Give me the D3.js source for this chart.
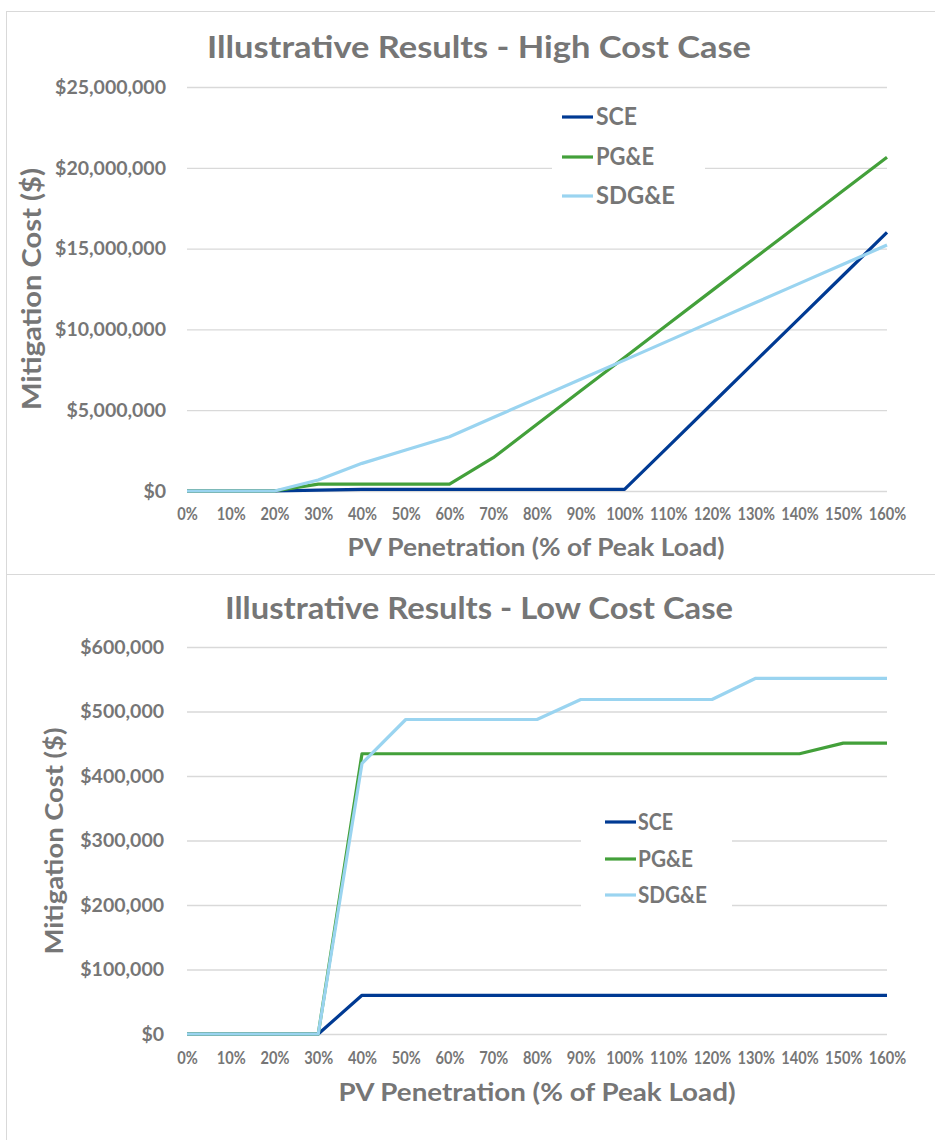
<!DOCTYPE html>
<html>
<head>
<meta charset="utf-8">
<script src="https://cdn.jsdelivr.net/npm/d3@7"></script>
<style>
  html, body { margin: 0; padding: 0; background: #fff; }
  svg { display: block; }
  text { font-family: Lato, "Open Sans", "DejaVu Sans", sans-serif; font-weight: bold; fill: #767676; }
</style>
</head>
<body>
<svg id="chart" width="935" height="1140"></svg>
<script>
// ---------- DATA ----------
const categories = ["0%","10%","20%","30%","40%","50%","60%","70%","80%","90%","100%","110%","120%","130%","140%","150%","160%"];
const seriesNames = ["SCE","PG&E","SDG&E"];

// High cost case (dollars)
const highSCE  = [0,0,0,50000,100000,100000,100000,100000,100000,100000,100000,2750000,5400000,8050000,10700000,13350000,16000000];
const highPGE  = [0,0,0,430000,430000,430000,430000,2060000,4130000,6200000,8260000,10330000,12400000,14460000,16520000,18590000,20650000];
const highSDGE = [0,0,0,680000,1710000,2540000,3360000,4550000,5730000,6920000,8100000,9290000,10480000,11660000,12850000,14030000,15220000];
const highTicks = [0,5000000,10000000,15000000,20000000,25000000];

// Low cost case (dollars)
const lowSCE  = [0,0,0,0,60000,60000,60000,60000,60000,60000,60000,60000,60000,60000,60000,60000,60000];
const lowPGE  = [0,0,0,0,434500,434500,434500,434500,434500,434500,434500,434500,434500,434500,434500,451000,451000];
const lowSDGE = [0,0,0,0,419500,487600,487600,487600,487600,518600,518600,518600,518600,551500,551500,551500,551500];
const lowTicks = [0,100000,200000,300000,400000,500000,600000];

const colors = ["#003A93","#43A03A","#9AD4F0"];
const gridColor = "#D9D9D9";
const textColor = "#767676";

const svg = d3.select("#chart");
const fmt = d3.format("$,");

// chart borders
svg.append("rect").attr("x",6.5).attr("y",11.5).attr("width",940).attr("height",563)
  .attr("fill","none").attr("stroke",gridColor).attr("stroke-width",1);
svg.append("rect").attr("x",6.5).attr("y",574.5).attr("width",940).attr("height",600)
  .attr("fill","none").attr("stroke",gridColor).attr("stroke-width",1);

function fitText(sel, width) {
  sel.attr("textLength", width).attr("lengthAdjust", "spacingAndGlyphs");
}

function drawChart(cfg) {
  const g = svg.append("g");
  const x = d3.scalePoint().domain(d3.range(categories.length)).range([cfg.x0, cfg.x1]);
  const y = d3.scaleLinear().domain([0, cfg.max]).range([cfg.yBottom, cfg.yTop]);

  // gridlines + y labels via axis
  const yAxis = d3.axisLeft(y).tickValues(cfg.ticks).tickFormat(fmt)
    .tickSize(-(cfg.x1 - cfg.x0)).tickPadding(cfg.yPad);
  const ya = g.append("g").attr("transform", `translate(${cfg.x0},0)`).call(yAxis);
  ya.select(".domain").remove();
  ya.selectAll(".tick line").attr("stroke", gridColor).attr("stroke-width", 1.3);
  ya.selectAll(".tick text").attr("fill", textColor).style("font-size", cfg.yFont + "px")
    .style("font-family", "Lato, sans-serif").style("font-weight", "bold");

  // x labels via axis
  const xAxis = d3.axisBottom(x).tickFormat(i => categories[i]).tickSize(0).tickPadding(0);
  const xa = g.append("g").attr("transform", `translate(0,${cfg.xLabelY})`).call(xAxis);
  xa.select(".domain").remove();
  xa.selectAll(".tick text").attr("fill", textColor).attr("dy", "0.35em").attr("y", 0)
    .style("font-size", "16.5px").style("font-family", "Lato, sans-serif").style("font-weight", "bold")
    .each(function(d) {
      const t = categories[d];
      const w = (t.length - 1) * 0.507 * 16.6 + 0.73 * 16.6;
      d3.select(this).attr("textLength", w).attr("lengthAdjust", "spacingAndGlyphs");
    });

  // legend background
  g.append("rect").attr("x", cfg.leg.bx0).attr("y", cfg.leg.by0)
    .attr("width", cfg.leg.bx1 - cfg.leg.bx0).attr("height", cfg.leg.by1 - cfg.leg.by0).attr("fill", "#fff");

  // lines
  const line = d3.line().x((d, i) => x(i)).y(d => y(d));
  cfg.series.forEach((s, k) => {
    g.append("path").datum(s).attr("d", line).attr("fill", "none")
      .attr("stroke", colors[k]).attr("stroke-width", 3.2).attr("stroke-linejoin", "round");
  });

  // legend
  seriesNames.forEach((n, k) => {
    const ly = cfg.leg.ys[k];
    g.append("line").attr("x1", cfg.leg.lx0).attr("x2", cfg.leg.lx1).attr("y1", ly).attr("y2", ly)
      .attr("stroke", colors[k]).attr("stroke-width", 3.2);
    g.append("text").attr("x", cfg.leg.tx).attr("y", ly).attr("dy", "0.35em")
      .style("font-size", cfg.leg.font + "px").text(n)
      .call(fitText, cfg.leg.widths[k]);
  });

  // titles
  g.append("text").attr("x", cfg.title.x).attr("y", cfg.title.y).attr("dy", "0.35em")
    .attr("text-anchor", "middle").style("font-size", cfg.title.font + "px").text(cfg.title.text)
    .call(fitText, cfg.title.w);
  g.append("text").attr("x", cfg.xt.x).attr("y", cfg.xt.y).attr("dy", "0.35em")
    .attr("text-anchor", "middle").style("font-size", cfg.xt.font + "px").text("PV Penetration (% of Peak Load)")
    .call(fitText, cfg.xt.w);
  g.append("text").attr("transform", `translate(${cfg.yt.x},${cfg.yt.y}) rotate(-90)`).attr("dy", "0.35em")
    .attr("text-anchor", "middle").style("font-size", cfg.yt.font + "px").text("Mitigation Cost ($)")
    .call(fitText, cfg.yt.w);
}

drawChart({
  x0: 187, x1: 887, yTop: 87, yBottom: 491, max: 25000000, ticks: highTicks,
  yPad: 21, yFont: 19.5, xLabelY: 514,
  series: [highSCE, highPGE, highSDGE],
  leg: { bx0: 552, bx1: 705, by0: 95, by1: 215, lx0: 562, lx1: 593, tx: 596,
         ys: [117, 157, 196], font: 24, widths: [41, 58, 79] },
  title: { x: 479, y: 47, font: 31, w: 544, text: "Illustrative Results - High Cost Case" },
  xt: { x: 536, y: 548, font: 24, w: 377 },
  yt: { x: 32, y: 289, font: 26, w: 242 }
});

drawChart({
  x0: 187, x1: 887, yTop: 647, yBottom: 1034, max: 600000, ticks: lowTicks,
  yPad: 23, yFont: 19.5, xLabelY: 1058,
  series: [lowSCE, lowPGE, lowSDGE],
  leg: { bx0: 581, bx1: 732, by0: 805, by1: 915, lx0: 605, lx1: 636, tx: 638,
         ys: [822, 859, 895], font: 22, widths: [35, 55, 69] },
  title: { x: 479, y: 608, font: 30, w: 508, text: "Illustrative Results - Low Cost Case" },
  xt: { x: 537, y: 1092, font: 25, w: 397 },
  yt: { x: 55, y: 841, font: 24, w: 227 }
});
</script>
</body>
</html>
